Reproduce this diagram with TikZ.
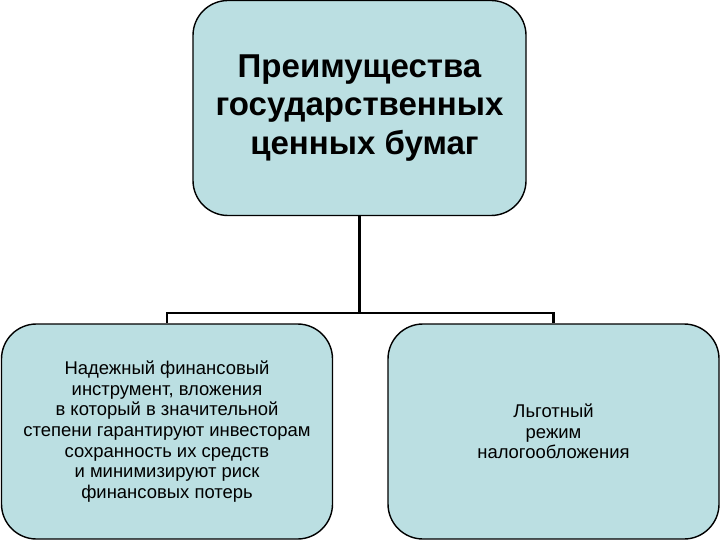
\documentclass[tikz,border=0pt]{standalone}
\usepackage{fontspec}
\setmainfont{Liberation Sans}
\definecolor{boxfill}{HTML}{BBDFE2}

\begin{document}
\begin{tikzpicture}[line width=0.7pt]
		\tikzstyle{every node}=[draw=black,line width=0.4pt,fill=boxfill,rounded corners=0.35cm,align=center,inner sep=0pt]
		\tikzstyle{topbox}=[minimum width=3.33cm,minimum height=2.15cm,font=\fontsize{9.4}{10.9}\selectfont\bfseries]
		\tikzstyle{lowbox}=[minimum width=3.31cm,minimum height=2.15cm,font=\fontsize{5.25}{5.86}\selectfont]
		\useasboundingbox (0,0) rectangle (7.2,5.4);
		\draw (3.595,4.32) node[topbox] (top) {Преимущества\\государственных\\\hspace{0.3em}ценных бумаг};
		\draw (1.67,1.085) node[lowbox] (left) {Надежный финансовый\\инструмент, вложения\\в который в значительной\\степени гарантируют инвесторам\\сохранность их средств\\и минимизируют риск\\финансовых потерь};
		\draw (5.535,1.085) node[lowbox] (right) {Льготный\\режим\\налогообложения};
		\coordinate (bus) at (3.595,2.27);
	
		\draw (top) -- (bus);
		\draw (bus) -| (left);
		\draw (bus) -| (right);
	\end{tikzpicture}
\end{document}
